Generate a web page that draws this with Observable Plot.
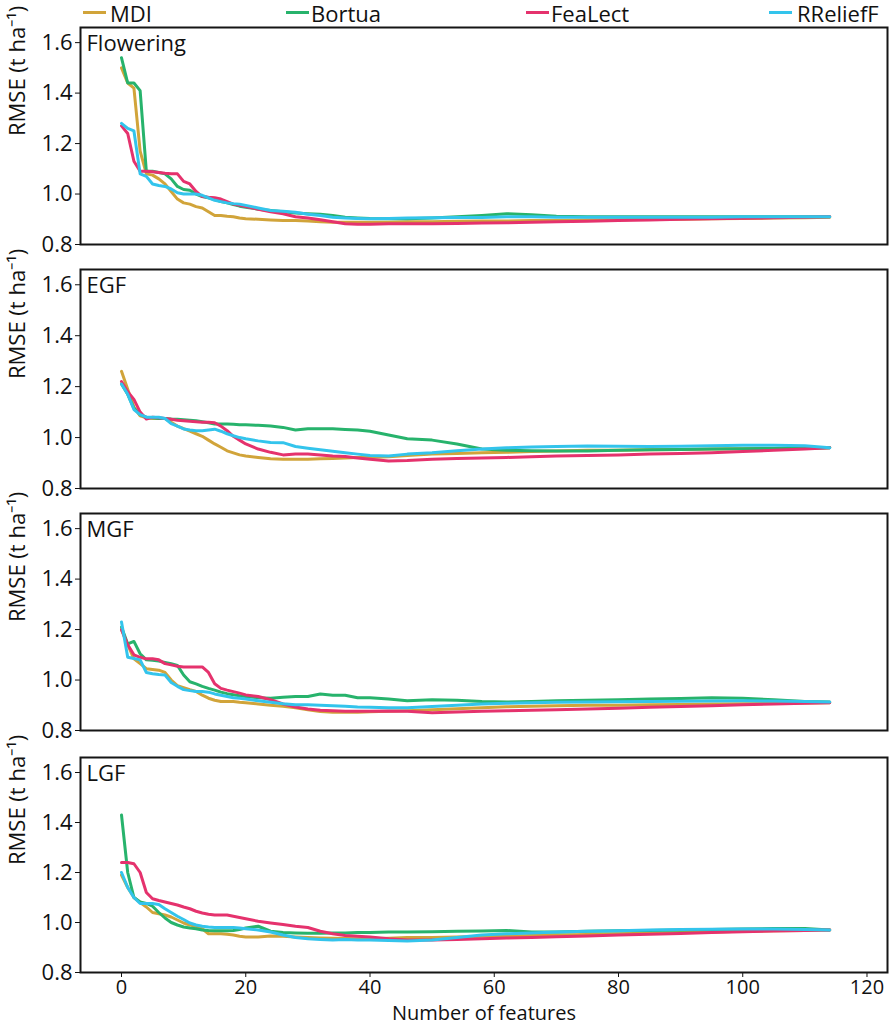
<!DOCTYPE html>
<html>
<head>
<meta charset="utf-8">
<script src="https://cdn.jsdelivr.net/npm/d3@7"></script>
<script src="https://cdn.jsdelivr.net/npm/@observablehq/plot@0.6"></script>
<style>
  body { margin: 0; background: #fff; font-family: "Open Sans", sans-serif; color: #111; }
  #wrap { position: relative; width: 892px; height: 1030px; }
  #legend { position: absolute; left: 0; top: 0; height: 30px; width: 892px; }
  #charts { position: absolute; left: 0; top: 24px; width: 892px; }
  .sw { position: absolute; top: 11px; height: 3px; width: 23px; }
  .lt { position: absolute; top: 0px; font-size: 22px; line-height: 26px; white-space: nowrap; }
  svg { display: block; }
</style>
</head>
<body>
<div id="wrap">
  <div id="charts"></div>
  <div id="legend"></div>
</div>
<script>
// ---- data ----
const methods = ["MDI", "Bortua", "FeaLect", "RReliefF"];
const colors = ["#d1a43a", "#27b36c", "#e5326d", "#33c4ec"];
const panels = ["Flowering", "EGF", "MGF", "LGF"];
const features = [0,1,2,3,4,5,6,7,8,9,10,11,12,13,14,15,16,17,18,19,20,
  22,24,26,28,30,32,34,36,38,40,
  43,46,50,54,58,62,66,70,
  75,80,85,90,95,100,105,110,114];
const xTicks = [0, 20, 40, 60, 80, 100, 120];
const yTicks = [0.8, 1.0, 1.2, 1.4, 1.6];

// Flowering
const flowering_MDI = [1.50,1.44,1.42,1.17,1.08,1.075,1.06,1.04,1.01,0.98,0.965,0.96,0.95,0.945,0.93,0.915,0.915,0.912,0.91,0.905,0.902,
  0.90,0.897,0.895,0.895,0.893,0.89,0.888,0.888,0.888,0.888,
  0.888,0.89,0.89,0.892,0.893,0.893,0.895,0.895,
  0.897,0.898,0.90,0.90,0.902,0.903,0.905,0.906,0.908];
const flowering_Bortua = [1.54,1.44,1.44,1.41,1.09,1.09,1.085,1.08,1.06,1.03,1.018,1.015,1.0,0.99,0.985,0.978,0.97,0.965,0.958,0.952,0.948,
  0.94,0.935,0.93,0.925,0.922,0.92,0.915,0.908,0.905,0.903,
  0.902,0.902,0.905,0.91,0.915,0.922,0.918,0.912,
  0.91,0.91,0.91,0.91,0.91,0.91,0.91,0.91,0.91];
const flowering_FeaLect = [1.27,1.24,1.13,1.09,1.09,1.088,1.085,1.082,1.08,1.08,1.05,1.04,1.01,0.99,0.987,0.985,0.98,0.97,0.96,0.955,0.95,
  0.94,0.93,0.922,0.91,0.905,0.898,0.89,0.882,0.88,0.88,
  0.882,0.882,0.882,0.883,0.885,0.886,0.888,0.89,
  0.892,0.895,0.897,0.90,0.902,0.904,0.906,0.908,0.91];
const flowering_RReliefF = [1.28,1.26,1.25,1.08,1.07,1.04,1.034,1.03,1.02,1.005,1.0,1.0,1.0,0.995,0.985,0.975,0.97,0.965,0.962,0.96,0.955,
  0.945,0.935,0.932,0.928,0.92,0.915,0.908,0.905,0.903,0.902,
  0.903,0.905,0.906,0.907,0.907,0.91,0.91,0.908,
  0.908,0.908,0.908,0.908,0.908,0.91,0.91,0.91,0.91];

// EGF
const egf_MDI = [1.26,1.19,1.12,1.085,1.078,1.075,1.075,1.075,1.06,1.045,1.035,1.025,1.015,1.005,0.99,0.975,0.962,0.948,0.94,0.932,0.928,
  0.922,0.917,0.915,0.915,0.915,0.917,0.918,0.92,0.922,0.922,
  0.925,0.93,0.935,0.937,0.94,0.942,0.945,0.947,
  0.95,0.95,0.952,0.953,0.955,0.956,0.957,0.958,0.96];
const egf_Bortua = [1.21,1.17,1.115,1.09,1.08,1.078,1.075,1.075,1.073,1.072,1.07,1.068,1.066,1.062,1.058,1.053,1.053,1.053,1.052,1.05,1.05,
  1.048,1.045,1.04,1.03,1.035,1.035,1.035,1.032,1.03,1.025,
  1.01,0.995,0.99,0.975,0.955,0.95,0.948,0.947,
  0.947,0.95,0.952,0.953,0.955,0.956,0.957,0.958,0.96];
const egf_FeaLect = [1.22,1.18,1.15,1.10,1.073,1.08,1.078,1.075,1.072,1.068,1.066,1.064,1.062,1.06,1.06,1.058,1.045,1.027,1.005,0.99,0.975,
  0.955,0.942,0.932,0.935,0.935,0.932,0.928,0.926,0.92,0.915,
  0.908,0.91,0.915,0.918,0.92,0.922,0.925,0.928,
  0.93,0.932,0.935,0.937,0.94,0.945,0.95,0.955,0.96];
const egf_RReliefF = [1.21,1.17,1.11,1.09,1.08,1.08,1.08,1.075,1.055,1.045,1.034,1.03,1.027,1.027,1.03,1.033,1.025,1.015,1.007,1.0,0.995,
  0.987,0.981,0.98,0.965,0.958,0.952,0.946,0.94,0.935,0.93,
  0.928,0.935,0.94,0.948,0.955,0.96,0.963,0.965,
  0.967,0.966,0.965,0.966,0.968,0.97,0.97,0.968,0.96];

// MGF
const mgf_MDI = [1.20,1.14,1.084,1.065,1.045,1.042,1.039,1.03,1.0,0.978,0.97,0.962,0.955,0.94,0.928,0.92,0.915,0.915,0.915,0.912,0.91,
  0.905,0.90,0.896,0.89,0.882,0.875,0.872,0.872,0.872,0.874,
  0.876,0.878,0.882,0.886,0.89,0.894,0.896,0.898,
  0.90,0.90,0.902,0.903,0.905,0.906,0.908,0.909,0.91];
const mgf_Bortua = [1.21,1.143,1.153,1.104,1.08,1.078,1.075,1.07,1.065,1.058,1.02,0.993,0.985,0.975,0.967,0.96,0.952,0.946,0.942,0.938,0.935,
  0.93,0.928,0.932,0.935,0.935,0.945,0.94,0.94,0.93,0.93,
  0.925,0.918,0.922,0.92,0.915,0.913,0.915,0.918,
  0.92,0.922,0.925,0.927,0.93,0.928,0.922,0.915,0.913];
const mgf_FeaLect = [1.20,1.14,1.10,1.09,1.084,1.084,1.08,1.065,1.06,1.055,1.052,1.052,1.052,1.052,1.03,0.985,0.967,0.96,0.954,0.948,0.941,
  0.935,0.922,0.905,0.893,0.885,0.88,0.878,0.876,0.876,0.876,
  0.877,0.876,0.87,0.873,0.876,0.878,0.88,0.882,
  0.885,0.888,0.892,0.895,0.898,0.902,0.905,0.908,0.91];
const mgf_RReliefF = [1.23,1.09,1.085,1.08,1.03,1.025,1.022,1.02,0.99,0.975,0.962,0.958,0.955,0.955,0.952,0.945,0.94,0.935,0.93,0.928,0.925,
  0.918,0.912,0.906,0.902,0.902,0.90,0.898,0.896,0.893,0.892,
  0.89,0.89,0.895,0.90,0.905,0.908,0.91,0.912,
  0.913,0.914,0.915,0.916,0.917,0.918,0.917,0.915,0.913];

// LGF
const lgf_MDI = [1.19,1.14,1.10,1.08,1.062,1.04,1.035,1.03,1.022,1.01,0.998,0.99,0.985,0.975,0.955,0.955,0.955,0.953,0.95,0.945,0.942,
  0.942,0.946,0.945,0.942,0.94,0.938,0.937,0.936,0.935,0.935,
  0.937,0.94,0.94,0.942,0.945,0.946,0.948,0.95,
  0.952,0.955,0.957,0.96,0.962,0.965,0.967,0.968,0.97];
const lgf_Bortua = [1.43,1.20,1.10,1.082,1.076,1.065,1.04,1.018,1.0,0.99,0.982,0.978,0.975,0.97,0.968,0.967,0.967,0.967,0.968,0.972,0.978,
  0.985,0.965,0.96,0.958,0.957,0.957,0.958,0.958,0.96,0.96,
  0.962,0.962,0.963,0.965,0.966,0.968,0.962,0.962,
  0.965,0.967,0.968,0.97,0.972,0.974,0.976,0.976,0.97];
const lgf_FeaLect = [1.24,1.24,1.235,1.20,1.12,1.095,1.088,1.082,1.076,1.07,1.062,1.055,1.045,1.038,1.033,1.03,1.03,1.03,1.025,1.02,1.015,
  1.005,0.998,0.992,0.985,0.98,0.965,0.955,0.948,0.945,0.942,
  0.935,0.93,0.93,0.932,0.935,0.938,0.94,0.943,
  0.946,0.95,0.953,0.956,0.96,0.963,0.966,0.968,0.97];
const lgf_RReliefF = [1.20,1.14,1.10,1.076,1.076,1.076,1.072,1.055,1.04,1.025,1.012,0.998,0.99,0.985,0.982,0.98,0.98,0.98,0.98,0.978,0.975,
  0.97,0.962,0.95,0.94,0.935,0.932,0.93,0.932,0.93,0.93,
  0.928,0.926,0.93,0.94,0.95,0.955,0.958,0.962,
  0.965,0.967,0.97,0.972,0.973,0.974,0.974,0.972,0.97];

const seriesByPanel = {
  Flowering: [flowering_MDI, flowering_Bortua, flowering_FeaLect, flowering_RReliefF],
  EGF: [egf_MDI, egf_Bortua, egf_FeaLect, egf_RReliefF],
  MGF: [mgf_MDI, mgf_Bortua, mgf_FeaLect, mgf_RReliefF],
  LGF: [lgf_MDI, lgf_Bortua, lgf_FeaLect, lgf_RReliefF]
};

// ---- legend ----
const legend = document.getElementById("legend");
const legendPos = [[83, 110], [286, 311], [526, 551], [769, 797]];
methods.forEach((m, i) => {
  const sw = document.createElement("div");
  sw.className = "sw";
  sw.style.left = legendPos[i][0] + "px";
  sw.style.background = colors[i];
  legend.appendChild(sw);
  const t = document.createElement("div");
  t.className = "lt";
  t.style.left = legendPos[i][1] + "px";
  t.textContent = m;
  legend.appendChild(t);
});

// ---- charts ----
const layout = [
  {mt: 3, h: 217, mb: 12},
  {mt: 13, h: 219, mb: 12},
  {mt: 13, h: 217, mb: 14},
  {mt: 13, h: 215, mb: 58}
];
const charts = document.getElementById("charts");
panels.forEach((p, pi) => {
  const rows = [];
  methods.forEach((m, mi) => {
    seriesByPanel[p][mi].forEach((v, i) => rows.push({method: m, x: features[i], y: v}));
  });
  const L = layout[pi];
  const last = pi === panels.length - 1;
  const marks = [
    Plot.line(rows, {x: "x", y: "y", z: "method", stroke: "method", strokeWidth: 3, strokeLinejoin: "round"}),
    Plot.frame({stroke: "#151515", strokeWidth: 2}),
    Plot.text([p], {frameAnchor: "top-left", dx: 6, dy: 8, textAnchor: "start", lineAnchor: "top", fontSize: 22, fill: "#111"}),
    Plot.text(["RMSE (t ha\u207B\u00B9)"], {frameAnchor: "left", rotate: -90, dx: -63, fontSize: 22, fill: "#111"})
  ];
  if (last) {
    marks.push(Plot.text(["Number of features"], {frameAnchor: "bottom", dy: 47, fontSize: 20, fill: "#111"}));
  }
  const chart = Plot.plot({
    width: 892,
    height: L.mt + L.h + L.mb,
    marginLeft: 80,
    marginRight: 5,
    marginTop: L.mt,
    marginBottom: L.mb,
    style: {fontSize: "22px", fontFamily: "'Open Sans', sans-serif", background: "transparent", color: "#111", overflow: "visible"},
    x: {domain: [-6.6, 123.3], ticks: xTicks, tickSize: 5, tickPadding: 2, label: null, axis: last ? "bottom" : null},
    y: {domain: [0.8, 1.66], ticks: yTicks, tickFormat: d3.format(".1f"), tickSize: 5, tickPadding: 3, label: null},
    color: {domain: methods, range: colors},
    marks
  });
  if (last) {
    chart.querySelectorAll('g[aria-label^="x-axis"] text').forEach(t => t.setAttribute("font-size", "20"));
  }
  charts.appendChild(chart);
});
</script>
</body>
</html>
